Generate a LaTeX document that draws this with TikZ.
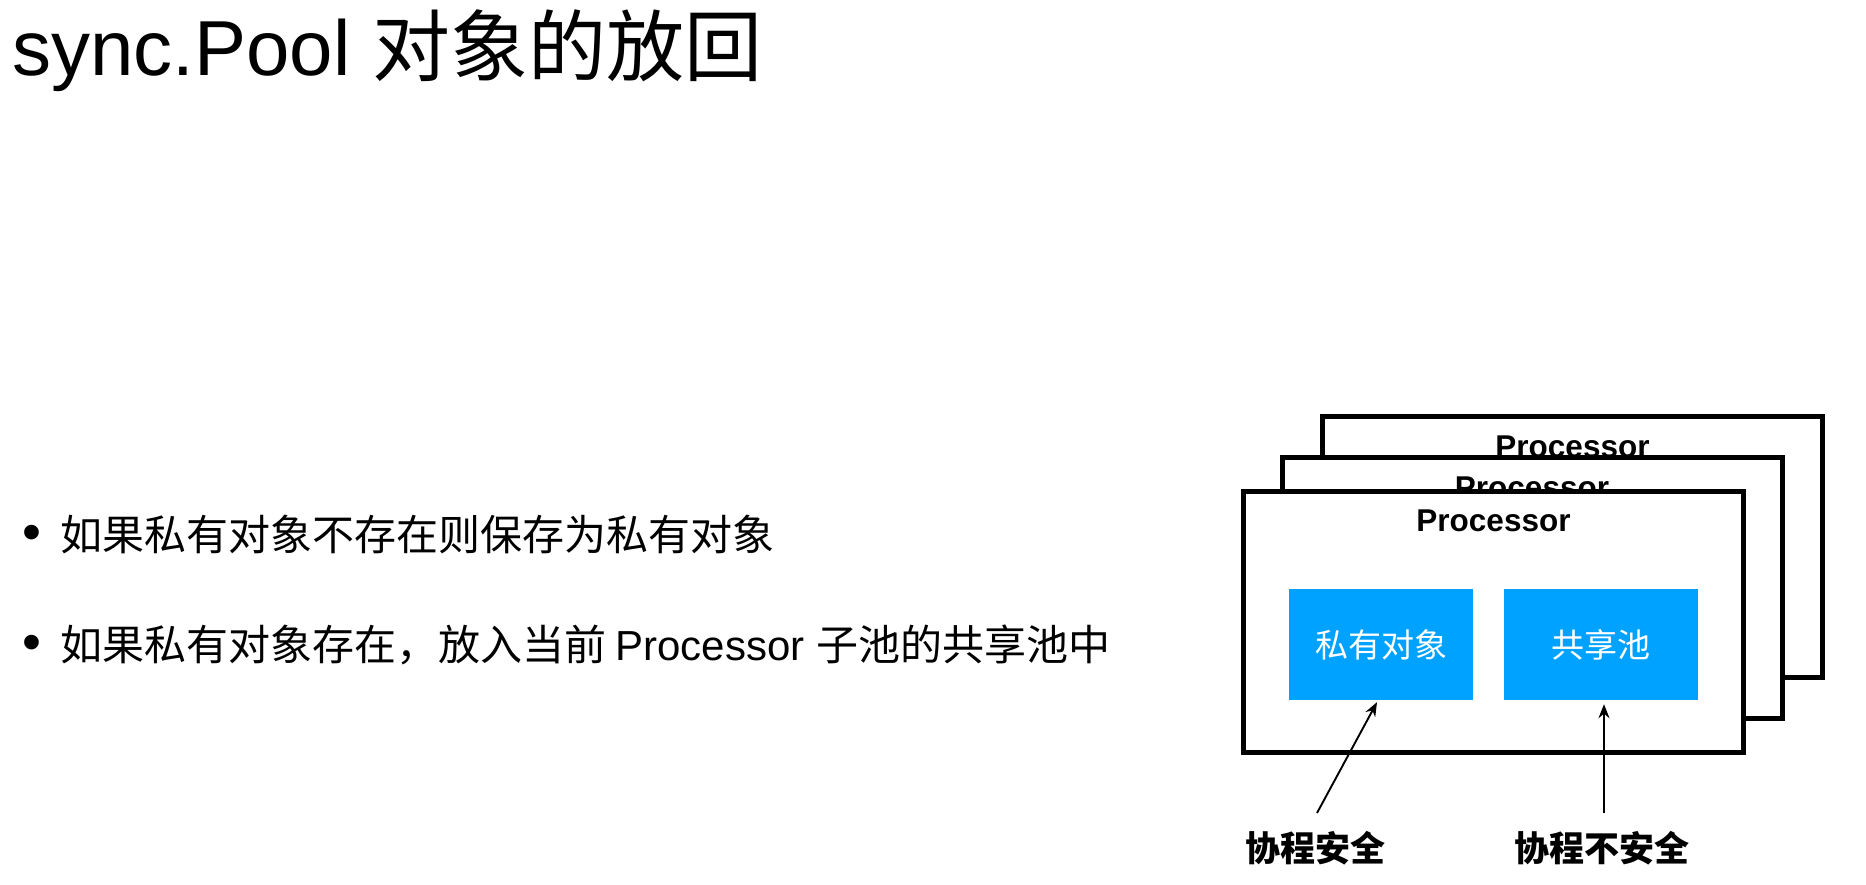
\documentclass[tikz,border=0pt]{standalone}
\usepackage{fontspec}
\setmainfont{Liberation Sans}
\newfontfamily\cjk{Noto Sans CJK SC}
\newfontfamily\lat{Liberation Sans}
\usetikzlibrary{calc,arrows.meta}
\definecolor{poolblue}{RGB}{0,162,255}
\newcommand{\bul}{{\lat\fontsize{54}{54}\selectfont •}}
\begin{document}
\begin{tikzpicture}[x=1pt,y=-1pt,
  procbox/.style={draw=black, line width=5pt, fill=white, minimum width=500pt, minimum height=261pt, inner sep=0pt},
  proclabel/.style={font=\lat\bfseries\fontsize{31.5}{34}\selectfont, inner sep=0pt},
  bluebox/.style={fill=poolblue, text=white, inner sep=0pt, minimum height=111pt, font=\cjk\fontsize{33}{36}\selectfont},
  safelabel/.style={font=\cjk\bfseries\fontsize{35}{38}\selectfont, inner sep=0pt},
  arr/.style={line width=1.9pt, -{Stealth[length=14pt,width=11pt]}},
  bulletline/.style={anchor=base west, inner sep=0pt, font=\fontsize{42}{46}\selectfont}
]
\useasboundingbox (0,0) rectangle (1866,885);
% title
\node[anchor=base west, inner sep=0pt, font=\fontsize{78}{82}\selectfont] (title) at (12,76) {\lat sync.Pool \cjk 对象的放回};
% bullets
\node[bulletline] (b1) at (22,550) {\bul\hspace{19pt}\cjk 如果私有对象不存在则保存为私有对象};
\node[bulletline] (b2) at (22,660) {\bul\hspace{19pt}\cjk 如果私有对象存在，放入当前 \lat Processor \cjk 子池的共享池中};
% stacked processor boxes
\node[procbox] (back) at (1572.5,547) {};
\node[proclabel] (backlab) at ($(back.north)+(0,33)$) {Processor};
\node[procbox] (mid) at (1532,587.5) {};
\node[proclabel] (midlab) at ($(mid.north)+(0,33)$) {Processor};
\node[procbox] (front) at (1493.5,622) {};
\node[proclabel] (frontlab) at ($(front.north)+(0,32)$) {Processor};
% inner blue boxes
\node[bluebox, minimum width=184pt] (priv) at (1381,644.5) {私有对象};
\node[bluebox, minimum width=194pt] (shared) at (1601,644.5) {共享池};
% labels
\node[safelabel] (lab1) at (1315,848) {协程安全};
\node[safelabel] (lab2) at (1602,848) {协程不安全};
% arrows
\draw[arr] ($(lab1.center)+(2,-35)$) -- ($(priv.south)+(-4,2)$);
\draw[arr] ($(lab2.center)+(2,-35)$) -- ($(shared.south)+(3,4)$);
\end{tikzpicture}
\end{document}
